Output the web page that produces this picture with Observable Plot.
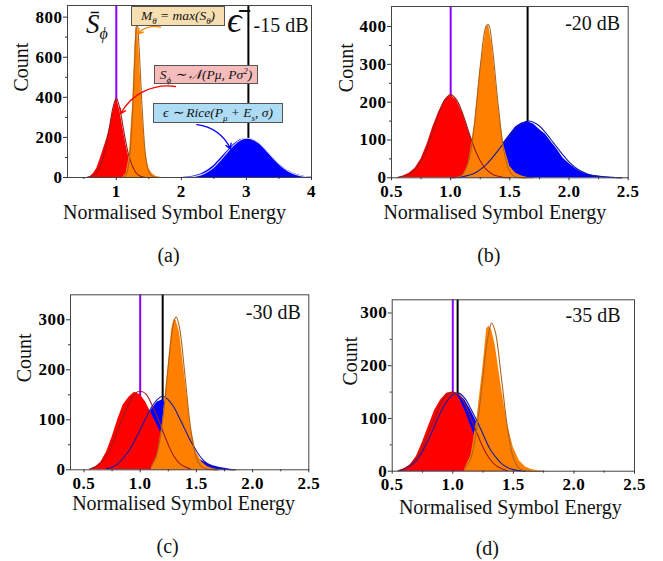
<!DOCTYPE html>
<html><head><meta charset="utf-8">
<script src="https://cdn.jsdelivr.net/npm/d3@7"></script>
<script src="https://cdn.jsdelivr.net/npm/@observablehq/plot@0.6"></script>
<style>
body{margin:0;background:#fff;}
#wrap{position:relative;width:663px;height:561px;overflow:hidden;font-family:"Liberation Serif",serif;}
#wrap svg{position:absolute;}
#wrap g[aria-label="x-axis tick label"] text, #wrap g[aria-label="y-axis tick label"] text{letter-spacing:0.5px;}
.box{position:absolute;border:1px solid #555;font-family:"Liberation Serif",serif;font-style:italic;font-size:13.5px;line-height:17px;text-align:center;white-space:nowrap;box-sizing:border-box;color:#111;}
.box sub,.box sup{font-size:9px;line-height:0;}
.sym{position:absolute;font-family:"Liberation Serif",serif;font-style:italic;white-space:nowrap;color:#111;line-height:1;}
.sym sub{font-size:16px;}
</style></head><body><div id="wrap"></div><script>
// ---------- data: [x, histogram count, fitted curve] ----------
const aRed = [[0.55,0,0],[0.6,5,3],[0.65,20,10],[0.7,45,25],[0.75,90,55],[0.8,140,100],[0.85,190,170],[0.9,250,260],[0.95,330,350],[1.0,395,395],[1.05,340,350],[1.1,250,260],[1.15,160,170],[1.2,90,100],[1.25,35,55],[1.3,10,25],[1.35,2,10],[1.4,0,3],[1.45,0,0]];
const aOrange = [[1.1,2,1],[1.15,20,12],[1.2,110,90],[1.25,360,330],[1.28,600,560],[1.3,740,720],[1.32,770,780],[1.35,630,650],[1.4,320,330],[1.45,120,110],[1.5,45,28],[1.55,20,6],[1.6,8,1],[1.65,3,0],[1.7,0,0]];
const aBlue = [[2.0,0,0],[2.1,2,1],[2.2,8,5],[2.3,18,13],[2.4,35,28],[2.5,60,52],[2.6,95,86],[2.7,130,124],[2.8,165,160],[2.9,188,186],[3.0,195,196],[3.1,190,190],[3.2,170,170],[3.3,135,138],[3.4,100,102],[3.5,68,68],[3.6,42,41],[3.7,24,22],[3.8,12,11],[3.9,5,5],[4.0,2,2]];

const bRed = [[0.55,0,1],[0.6,5,4],[0.65,12,10],[0.7,25,22],[0.75,50,45],[0.8,88,79],[0.85,135,124],[0.9,175,171],[0.95,205,206],[1.0,218,220],[1.05,205,206],[1.1,172,171],[1.15,125,124],[1.2,80,79],[1.25,42,45],[1.3,18,22],[1.35,6,10],[1.4,2,4],[1.45,0,1],[1.5,0,0]];
const bOrange = [[1.05,0,1],[1.1,5,8],[1.15,35,42],[1.2,140,138],[1.25,290,294],[1.3,395,401],[1.32,405,405],[1.35,350,351],[1.4,200,197],[1.45,85,71],[1.5,30,16],[1.55,12,2],[1.6,5,0],[1.65,1,0],[1.7,0,0]];
const bBlue = [[1.0,0,0],[1.1,2,3],[1.2,10,12],[1.3,30,35],[1.4,70,72],[1.45,95,92],[1.5,115,112],[1.55,135,130],[1.6,145,143],[1.65,148,150],[1.7,142,147],[1.75,128,137],[1.8,115,120],[1.85,95,100],[1.9,75,80],[1.95,52,60],[2.0,38,42],[2.05,25,28],[2.1,16,18],[2.15,10,11],[2.2,7,6],[2.3,3,2],[2.4,1,0],[2.45,0,0]];

const cRed = [[0.55,0,1],[0.6,5,6],[0.65,15,13],[0.7,35,27],[0.75,65,50],[0.8,100,78],[0.85,130,107],[0.9,145,132],[0.95,155,152],[1.0,150,157],[1.05,135,152],[1.1,112,132],[1.15,90,107],[1.2,65,78],[1.25,35,50],[1.3,15,27],[1.35,5,13],[1.4,0,6],[1.45,0,1]];
const cOrange = [[1.1,3,7],[1.15,25,32],[1.2,95,99],[1.25,210,208],[1.28,280,270],[1.3,300,296],[1.32,298,306],[1.35,275,284],[1.4,180,185],[1.45,85,81],[1.5,35,24],[1.55,15,5],[1.6,6,1],[1.65,2,0],[1.7,0,0]];
const cBlue = [[0.7,0,2],[0.75,2,5],[0.8,8,12],[0.9,30,38],[1.0,70,80],[1.05,95,103],[1.1,120,125],[1.15,135,140],[1.2,140,147],[1.25,125,140],[1.3,100,125],[1.35,75,103],[1.4,55,80],[1.45,38,57],[1.5,26,38],[1.55,18,22],[1.6,12,12],[1.65,8,6],[1.7,5,3],[1.75,3,1],[1.8,1,0],[1.85,0,0]];

const dRed = [[0.55,0,1],[0.6,4,5],[0.65,12,12],[0.7,28,25],[0.75,55,45],[0.8,85,72],[0.85,115,100],[0.9,135,128],[0.95,148,145],[1.0,150,150],[1.05,140,145],[1.1,115,128],[1.15,85,100],[1.2,55,72],[1.25,25,45],[1.3,10,25],[1.35,3,12],[1.4,0,5],[1.45,0,1]];
const dOrange = [[1.1,5,5],[1.15,30,25],[1.2,100,85],[1.25,200,180],[1.28,270,240],[1.3,275,265],[1.32,268,281],[1.35,240,265],[1.4,160,180],[1.45,90,85],[1.5,45,25],[1.55,20,5],[1.6,8,1],[1.65,3,0],[1.7,1,0],[1.75,0,0]];
const dBlue = [[0.55,0,1],[0.6,3,4],[0.7,20,20],[0.8,58,60],[0.9,110,112],[0.95,132,132],[1.0,145,145],[1.05,146,148],[1.1,135,138],[1.15,115,118],[1.2,92,95],[1.25,65,70],[1.3,42,45],[1.35,25,28],[1.4,14,15],[1.45,7,7],[1.5,3,3],[1.55,1,1],[1.6,0,0]];

const meanX = [1.0, 1.0, 1.0, 1.0];          // S-bar (purple)
const epsX  = [3.03, 1.65, 1.2, 1.04];       // epsilon-bar (black)
const dbLabels = ["-15 dB", "-20 dB", "-30 dB", "-35 dB"];
const panelLetters = ["(a)", "(b)", "(c)", "(d)"];
const xTicksA = [1, 2, 3, 4], xMinorA = [0.5, 1.5, 2.5, 3.5];
const xTicksB = [0.5, 1.0, 1.5, 2.0, 2.5], xMinorB = [0.75, 1.25, 1.75, 2.25];
const yTicks = [[0,200,400,600,800],[0,100,200,300,400],[0,100,200,300],[0,100,200,300]];
const yMinor = [[100,300,500,700],[50,150,250,350],[50,150,250],[50,150,250]];
const xLabel = "Normalised Symbol Energy", yLabel = "Count";
// annotation arrows in panel (a), data coordinates
const arrowM = [{x1:1.68, y1:750, x2:1.33, y2:717}];
const arrowS = [{x1:1.91, y1:454, x2:1.065, y2:318}];
const arrowE = [{x1:2.24, y1:264, x2:2.755, y2:143}];

const series = [[aRed,aOrange,aBlue],[bRed,bOrange,bBlue],[cRed,cOrange,cBlue],[dRed,dOrange,dBlue]];

// ---------- layout ----------
const layout = [
 {left:0,   top:0,   width:330, height:265, mL:67,   mR:19,   mT:5,    mB:88,   xDom:[0.25,4],  yDom:[0,858], xt:xTicksA, xm:xMinorA, fmt:d3.format("d"),  tdx:-15, tdy:35, ldx:-21, ldy:78, cdx:-45.5, dbdx:-3,  dbdy:20},
 {left:330, top:0,   width:333, height:265, mL:61,   mR:35.3, mT:6,    mB:87.7, xDom:[0.5,2.5], yDom:[0,453], xt:xTicksB, xm:xMinorB, fmt:d3.format(".1f"), tdx:-15, tdy:35, ldx:-21, ldy:78, cdx:-44.5, dbdx:-8,  dbdy:17},
 {left:0,   top:265, width:330, height:296, mL:70,   mR:21.7, mT:29.3, mB:91.7, xDom:[0.38,2.5],yDom:[0,350], xt:xTicksB, xm:xMinorB, fmt:d3.format(".1f"), tdx:-6,  tdy:34, ldx:-22, ldy:77, cdx:-46,   dbdx:-8,  dbdy:18},
 {left:330, top:265, width:333, height:296, mL:61.7, mR:29,   mT:34.3, mB:90.3, xDom:[0.5,2.5], yDom:[0,325], xt:xTicksB, xm:xMinorB, fmt:d3.format(".1f"), tdx:-3,  tdy:36, ldx:-26, ldy:77, cdx:-42,   dbdx:-14, dbdy:16}
];

const SERIF = "Liberation Serif";
const RED = "#ff0000", ORANGE = "#ff8000", BLUE = "#0000ff";
const fitColors = [["#9b1a1a","#b0631c","#d8d8ff"],["#9b1a1a","#b0631c","#1a1aa0"],["#9b1a1a","#b0631c","#1a1aa0"],["#9b1a1a","#b0631c","#1a1aa0"]];

const wrap = document.getElementById("wrap");

layout.forEach((L, i) => {
  const [red, orange, blue] = series[i];
  const fc = fitColors[i];
  const hist = (data, fill) => Plot.areaY(data, {x: d => d[0], y: d => d[1], fill, curve: "linear"});
  const fit = (data, stroke) => Plot.lineY(data, {x: d => d[0], y: d => d[2], stroke, strokeWidth: 1.1, curve: "catmull-rom"});
  const tickText = {fontFamily: SERIF, fontWeight: "bold", fontSize: 17, fill: "#000", stroke: "#333"};
  const txt = {fontFamily: SERIF, fontWeight: "normal", fontSize: 20, lineAnchor: "middle", fill: "#111"};
  const marks = [
    Plot.ruleX([meanX[i]], {stroke: "#8a00ff", strokeWidth: 2}),
    Plot.ruleX([epsX[i]], {stroke: "#000", strokeWidth: 2}),
    hist(blue, BLUE), hist(red, RED), hist(orange, ORANGE),
    fit(blue, fc[2]), fit(red, fc[0]), fit(orange, fc[1]),
    Plot.frame({stroke: "#444", strokeWidth: 1}),
    Plot.axisX({ticks: L.xt, tickSize: 3, tickPadding: 4, tickFormat: L.fmt, label: null, ...tickText}),
    Plot.axisX({ticks: L.xm, tickSize: 2, tickFormat: () => "", label: null, stroke: "#333"}),
    Plot.axisY({ticks: yTicks[i], tickSize: 4, tickPadding: 1, tickFormat: d3.format("d"), label: null, ...tickText}),
    Plot.axisY({ticks: yMinor[i], tickSize: 2, tickFormat: () => "", label: null, stroke: "#333"}),
    Plot.text([xLabel], {frameAnchor: "bottom", dx: L.tdx, dy: L.tdy, ...txt}),
    Plot.text([panelLetters[i]], {frameAnchor: "bottom", dx: L.ldx, dy: L.ldy, ...txt}),
    Plot.text([yLabel], {frameAnchor: "left", rotate: -90, dx: L.cdx, ...txt}),
    Plot.text([dbLabels[i]], {frameAnchor: "top-right", textAnchor: "end", dx: L.dbdx, dy: L.dbdy, ...txt})
  ];
  if (i === 0) {
    const arr = (data, stroke, bend) => Plot.arrow(data, {x1: "x1", y1: "y1", x2: "x2", y2: "y2", stroke, strokeWidth: 1.4, bend, headLength: 6});
    marks.push(arr(arrowM, ORANGE, -30), arr(arrowS, RED, -35), arr(arrowE, BLUE, 30));
  }
  const svg = Plot.plot({
    width: L.width, height: L.height,
    marginLeft: L.mL, marginRight: L.mR, marginTop: L.mT, marginBottom: L.mB,
    x: {domain: L.xDom},
    y: {domain: L.yDom},
    style: {fontFamily: SERIF, fontSize: "17px", color: "#000", background: "transparent", overflow: "visible"},
    marks
  });
  svg.style.left = L.left + "px";
  svg.style.top = L.top + "px";
  wrap.appendChild(svg);
});

// ---------- panel (a) math annotations ----------
const notes = [
  {cls: "box", html: "<i>M</i><sub>θ</sub> = max(<i>S</i><sub>θ</sub>)", style: "left:131px;top:6px;width:94px;height:20px;background:#f7dfb2;"},
  {cls: "box", html: "<i>S</i><sub>ϕ</sub> ∼ 𝒩(<i>P</i><i>μ</i>, <i>Pσ</i><sup>2</sup>)", style: "left:154px;top:65px;width:104px;height:19px;background:#f6bcbc;"},
  {cls: "box", html: "<i>ϵ</i> ∼ <i>Rice</i>(<i>P</i><sub><i>μ</i></sub> + <i>E</i><sub><i>s</i></sub>, <i>σ</i>)", style: "left:153px;top:103px;width:130px;height:20px;background:#aedcf5;"},
  {cls: "sym", html: "S&#772;<sub>ϕ</sub>", style: "left:86px;top:11px;font-size:27px;"},
  {cls: "sym", html: "ϵ&#772;", style: "left:227px;top:2px;font-size:36px;"}
];
notes.forEach(n => {
  const d = document.createElement("div");
  d.className = n.cls;
  d.setAttribute("style", n.style);
  d.innerHTML = n.html;
  wrap.appendChild(d);
});
</script></body></html>
